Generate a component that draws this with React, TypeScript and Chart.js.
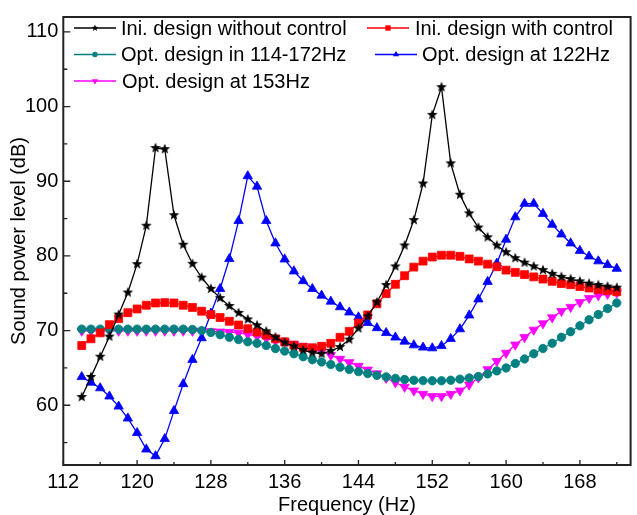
import React, { useEffect, useRef } from 'react';
import { Chart, registerables } from 'chart.js';

Chart.register(...registerables);

const frequencies = [
  114, 115, 116, 117, 118, 119, 120, 121, 122, 123, 124, 125, 126, 127, 128, 129, 130, 131, 132, 133,
  134, 135, 136, 137, 138, 139, 140, 141, 142, 143, 144, 145, 146, 147, 148, 149, 150, 151, 152, 153,
  154, 155, 156, 157, 158, 159, 160, 161, 162, 163, 164, 165, 166, 167, 168, 169, 170, 171, 172,
];

const iniWithoutControl = [
  61.1, 63.8, 66.5, 69.2, 72.15, 75.1, 78.9, 84.05, 94.45, 94.3, 85.45, 81.5, 78.95, 77.1, 75.6, 74.35, 73.3, 72.37, 71.5, 70.7,
  69.9, 69.1, 68.4, 67.9, 67.4, 67.05, 66.9, 67.3, 67.8, 68.8, 70.3, 71.9, 73.8, 76.1, 78.6, 81.4, 84.8, 89.7, 98.9, 102.6,
  92.4, 88.2, 85.7, 83.8, 82.5, 81.4, 80.5, 79.7, 79.1, 78.6, 78.1, 77.6, 77.2, 76.9, 76.6, 76.3, 76.1, 75.9, 75.75,
];

const iniWithControl = [
  68.0, 68.9, 69.7, 70.8, 71.6, 72.4, 72.9, 73.4, 73.7, 73.75, 73.7, 73.4, 73.1, 72.6, 72.15, 71.75, 71.25, 70.75, 70.25, 69.8,
  69.4, 68.9, 68.5, 68.05, 67.75, 67.7, 67.9, 68.3, 69.1, 69.9, 71.0, 72.1, 73.6, 74.95, 76.2, 77.35, 78.5, 79.3, 79.85, 80.1,
  80.1, 79.95, 79.6, 79.3, 78.9, 78.55, 78.1, 77.8, 77.5, 77.2, 76.9, 76.6, 76.3, 76.15, 75.9, 75.7, 75.5, 75.35, 75.2,
];

const optBand = [
  70.2, 70.2, 70.2, 70.2, 70.2, 70.2, 70.2, 70.2, 70.2, 70.2, 70.2, 70.2, 70.15, 70.0, 69.75, 69.45, 69.1, 68.8, 68.5, 68.3,
  68.0, 67.6, 67.25, 66.9, 66.5, 66.1, 65.8, 65.45, 65.1, 64.8, 64.5, 64.25, 64.0, 63.8, 63.6, 63.45, 63.35, 63.3, 63.28, 63.28,
  63.35, 63.5, 63.65, 63.85, 64.2, 64.6, 65.0, 65.6, 66.2, 66.9, 67.6, 68.3, 69.1, 69.85, 70.65, 71.45, 72.15, 72.95, 73.7,
];

const opt122 = [
  63.8, 63.05, 62.3, 61.2, 59.85, 58.25, 56.3, 54.1, 53.2, 55.5, 59.25, 62.85, 66.1, 69.0, 72.3, 75.6, 79.6, 84.7, 90.7, 89.3,
  84.7, 81.7, 79.55, 77.95, 76.65, 75.6, 74.7, 73.9, 73.15, 72.45, 71.8, 71.05, 70.35, 69.7, 69.1, 68.55, 68.05, 67.75, 67.65, 67.95,
  68.9, 70.2, 72.05, 74.2, 76.55, 79.0, 82.2, 85.2, 87.0, 87.0, 85.65, 84.2, 82.9, 81.7, 80.7, 79.95, 79.3, 78.8, 78.3,
];

const opt153 = [
  69.95, 69.95, 69.95, 69.95, 69.95, 69.95, 69.95, 69.95, 69.95, 69.95, 69.95, 69.95, 69.95, 69.95, 69.9, 69.85, 69.8, 69.7, 69.5, 69.25,
  68.95, 68.65, 68.45, 68.2, 67.95, 67.65, 67.2, 66.7, 66.2, 65.75, 65.25, 64.75, 64.25, 63.65, 63.05, 62.45, 61.95, 61.5, 61.2, 61.2,
  61.5, 61.95, 62.75, 63.7, 64.8, 65.9, 67.0, 68.1, 69.1, 70.1, 70.95, 71.75, 72.6, 73.15, 73.8, 74.35, 74.7, 74.9, 75.05,
];

const seriesLabels = [
  'Ini. design without control',
  'Ini. design with control',
  'Opt. design in 114-172Hz',
  'Opt. design at 122Hz',
  'Opt. design at 153Hz',
];

const xTicks = [112, 120, 128, 136, 144, 152, 160, 168];
const xMinorTicks = [116, 124, 132, 140, 148, 156, 164, 172];
const yTicks = [60, 70, 80, 90, 100, 110];
const yMinorTicks = [55, 65, 75, 85, 95, 105];

const FONT = "'Liberation Sans', Arial, Helvetica, sans-serif";
const COLORS = ['#000000', '#ff0000', '#008080', '#0000ff', '#ff00ff'];
const MARKERS = ['star', 'square', 'circle', 'triangle', 'triangleDown'];

function starPath(ctx: CanvasRenderingContext2D, cx: number, cy: number, R: number, r: number) {
  ctx.beginPath();
  for (let i = 0; i < 10; i++) {
    const a = -Math.PI / 2 + (i * Math.PI) / 5;
    const rad = i % 2 === 0 ? R : r;
    ctx.lineTo(cx + rad * Math.cos(a), cy + rad * Math.sin(a));
  }
  ctx.closePath();
}

function makeStarImage(R: number, color: string) {
  const size = 14;
  const c = document.createElement('canvas');
  c.width = size;
  c.height = size;
  const ctx = c.getContext('2d')!;
  starPath(ctx, size / 2, size / 2, R, R * 0.42);
  ctx.fillStyle = color;
  ctx.fill();
  return c;
}

function drawMarker(ctx: CanvasRenderingContext2D, type: string, x: number, y: number, s: number, color: string) {
  ctx.save();
  ctx.fillStyle = color;
  ctx.strokeStyle = color;
  if (type === 'star') {
    starPath(ctx, x, y, s, s * 0.42);
    ctx.fill();
  } else if (type === 'square') {
    ctx.fillRect(x - s * 0.75, y - s * 0.75, s * 1.5, s * 1.5);
  } else if (type === 'circle') {
    ctx.beginPath();
    ctx.arc(x, y, s * 0.75, 0, Math.PI * 2);
    ctx.fill();
  } else if (type === 'triangle') {
    ctx.beginPath();
    ctx.moveTo(x, y - s);
    ctx.lineTo(x + s * 0.87, y + s * 0.5);
    ctx.lineTo(x - s * 0.87, y + s * 0.5);
    ctx.closePath();
    ctx.fill();
  } else {
    ctx.beginPath();
    ctx.moveTo(x, y + s);
    ctx.lineTo(x + s * 0.87, y - s * 0.5);
    ctx.lineTo(x - s * 0.87, y - s * 0.5);
    ctx.closePath();
    ctx.fill();
  }
  ctx.restore();
}

// legend layout (canvas pixels): line start, line end, row centre, text start
const legendLayout = [
  { x0: 74, x1: 116, y: 28, tx: 121 },
  { x0: 367, x1: 409, y: 28, tx: 415 },
  { x0: 74, x1: 116, y: 54.5, tx: 121 },
  { x0: 375, x1: 417, y: 54.5, tx: 422 },
  { x0: 74, x1: 116, y: 81, tx: 122 },
];

const framePlugin = {
  id: 'frameTicks',
  afterDraw(chart: any) {
    const { ctx, chartArea } = chart;
    const xs = chart.scales.x;
    const ys = chart.scales.y;
    ctx.save();
    ctx.strokeStyle = '#222';
    ctx.lineWidth = 1.3;
    ctx.beginPath();
    xTicks.forEach((v) => {
      const px = xs.getPixelForValue(v);
      ctx.moveTo(px, chartArea.bottom);
      ctx.lineTo(px, chartArea.bottom - 5);
    });
    xMinorTicks.forEach((v) => {
      const px = xs.getPixelForValue(v);
      ctx.moveTo(px, chartArea.bottom);
      ctx.lineTo(px, chartArea.bottom - 3);
    });
    yTicks.forEach((v) => {
      const py = ys.getPixelForValue(v);
      ctx.moveTo(chartArea.left, py);
      ctx.lineTo(chartArea.left + 7, py);
    });
    yMinorTicks.forEach((v) => {
      const py = ys.getPixelForValue(v);
      ctx.moveTo(chartArea.left, py);
      ctx.lineTo(chartArea.left + 4, py);
    });
    ctx.stroke();
    ctx.lineWidth = 2;
    ctx.strokeRect(chartArea.left, chartArea.top, chartArea.right - chartArea.left, chartArea.bottom - chartArea.top);

    // legend
    ctx.font = `20px ${FONT}`;
    ctx.textBaseline = 'middle';
    ctx.textAlign = 'left';
    legendLayout.forEach((L, i) => {
      ctx.strokeStyle = COLORS[i];
      ctx.lineWidth = 1.3;
      ctx.beginPath();
      ctx.moveTo(L.x0, L.y);
      ctx.lineTo(L.x1, L.y);
      ctx.stroke();
      drawMarker(ctx, MARKERS[i], (L.x0 + L.x1) / 2, L.y, 3.6, COLORS[i]);
      ctx.fillStyle = '#000';
      ctx.fillText(seriesLabels[i], L.tx, L.y + 1);
    });
    ctx.restore();
  },
};

export default function App() {
  const canvasRef = useRef<HTMLCanvasElement | null>(null);

  useEffect(() => {
    const canvas = canvasRef.current;
    if (!canvas) return;
    const star = makeStarImage(5.6, '#000000');
    const allSeries = [iniWithoutControl, iniWithControl, optBand, opt122, opt153];
    const pointStyles: any[] = [star, 'rect', 'circle', 'triangle', 'triangle'];
    const radii = [5, 5.6, 4.2, 5.4, 5.4];
    const rotations = [0, 0, 0, 0, 180];

    const datasets = allSeries.map((arr, i) => ({
      label: seriesLabels[i],
      data: frequencies.map((f, j) => ({ x: f, y: arr[j] })),
      borderColor: COLORS[i],
      backgroundColor: COLORS[i],
      borderWidth: 1.3,
      pointStyle: pointStyles[i],
      pointRadius: radii[i],
      pointRotation: rotations[i],
      pointBackgroundColor: COLORS[i],
      pointBorderColor: COLORS[i],
      pointBorderWidth: 0.8,
      tension: 0,
      fill: false,
    }));

    const chart = new Chart(canvas, {
      type: 'line',
      data: { datasets },
      options: {
        responsive: false,
        animation: false,
        events: [],
        layout: { padding: { top: 9, right: 2, left: 0, bottom: 0 } },
        plugins: { legend: { display: false }, tooltip: { enabled: false } },
        scales: {
          x: {
            type: 'linear',
            min: 112,
            max: 173.5,
            afterBuildTicks: (s: any) => {
              s.ticks = xTicks.map((v) => ({ value: v }));
            },
            afterFit: (s: any) => {
              s.height = 50;
            },
            grid: { display: false, drawTicks: false },
            border: { display: false },
            ticks: {
              padding: 5,
              autoSkip: false,
              maxRotation: 0,
              color: '#000',
              font: { family: FONT, size: 20, lineHeight: 1.2 },
            },
            title: {
              display: true,
              text: 'Frequency (Hz)',
              color: '#000',
              font: { family: FONT, size: 20, lineHeight: 1 },
              padding: { top: 0, bottom: 0 },
            },
          },
          y: {
            type: 'linear',
            min: 52,
            max: 112,
            afterBuildTicks: (s: any) => {
              s.ticks = yTicks.map((v) => ({ value: v }));
            },
            afterFit: (s: any) => {
              s.width = 63.3;
            },
            grid: { display: false, drawTicks: false },
            border: { display: false },
            ticks: {
              padding: 5,
              autoSkip: false,
              color: '#000',
              font: { family: FONT, size: 20, lineHeight: 1.2 },
            },
            title: {
              display: true,
              text: 'Sound power level (dB)',
              color: '#000',
              font: { family: FONT, size: 20, lineHeight: 1 },
              padding: { top: 9, bottom: 0 },
            },
          },
        },
      },
      plugins: [framePlugin],
    });
    return () => chart.destroy();
  }, []);

  return (
    <div style={{ position: 'absolute', left: 0, top: 0, width: 637, height: 515, background: '#fff' }}>
      <canvas ref={canvasRef} width={637} height={515} style={{ display: 'block' }} />
    </div>
  );
}
